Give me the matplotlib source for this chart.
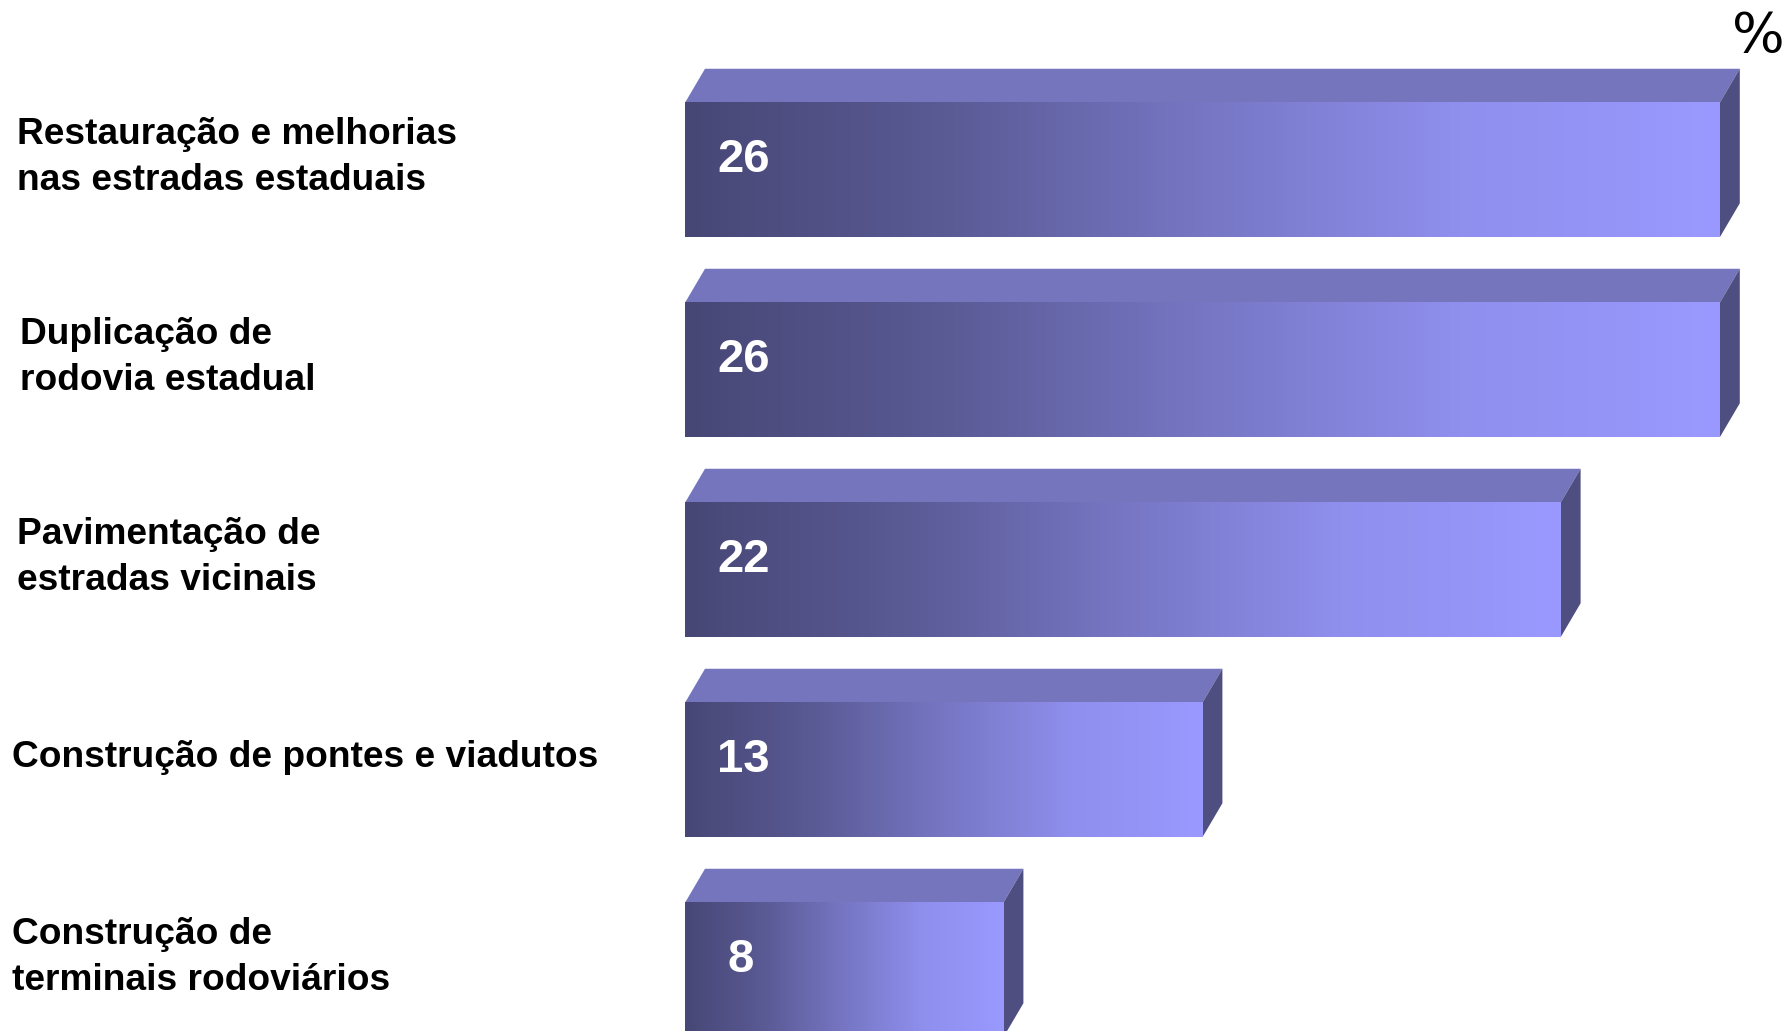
import numpy as np
import matplotlib
matplotlib.use("Agg")
import matplotlib.pyplot as plt
from matplotlib.colors import LinearSegmentedColormap
from matplotlib.patches import Polygon

# ---- data ----
categories = [
    "Restauração e melhorias\nnas estradas estaduais",
    "Duplicação de\nrodovia estadual",
    "Pavimentação de\nestradas vicinais",
    "Construção de pontes e viadutos",
    "Construção de\nterminais rodoviários",
]
values = [26, 26, 22, 13, 8]
value_labels = ["26", "26", "22", "13", "8"]
unit_label = "%"

# ---- layout / style ----
W, H, DPI = 1787, 1031, 100
X0_PX = 685.0          # pixel where value 0 sits
PX_PER_UNIT = 39.8
Y0_PX = 170.0          # pixel center of first bar
ROW_PX = 200.0
BAR_H = 134.5 / ROW_PX
DX = 20.0 / PX_PER_UNIT
DY = 34.0 / ROW_PX

front_cmap = LinearSegmentedColormap.from_list(
    "front",
    [(0.0, "#474776"), (0.25, "#5a5a95"), (0.5, "#7676c4"), (0.75, "#8f8fee"), (1.0, "#9999ff")])
top_color = "#7575bd"
side_color = "#4e4e80"
label_x_px = [17, 20, 17, 12.5, 12.5]

fig = plt.figure(figsize=(W / DPI, H / DPI), dpi=DPI)
ax = fig.add_axes([0, 0, 1, 1])
ax.set_axis_off()

xmin = -X0_PX / PX_PER_UNIT
xmax = (W - X0_PX) / PX_PER_UNIT
ytop = -Y0_PX / ROW_PX
ybot = (H - Y0_PX) / ROW_PX

grad = np.linspace(0, 1, 512).reshape(1, -1)

for i, (cat, v, vl) in enumerate(zip(categories, values, value_labels)):
    top = i - BAR_H / 2
    bot = i + BAR_H / 2
    # top face
    ax.add_patch(Polygon([(0, top), (v, top), (v + DX, top - DY), (DX, top - DY)],
                         closed=True, facecolor=top_color, edgecolor="none", zorder=2))
    # side face
    ax.add_patch(Polygon([(v, top), (v + DX, top - DY), (v + DX, bot - DY), (v, bot)],
                         closed=True, facecolor=side_color, edgecolor="none", zorder=2))
    # front face with gradient
    ax.imshow(grad, cmap=front_cmap, extent=(0, v, bot, top), aspect="auto",
              interpolation="bicubic", zorder=3)
    # value label
    if len(vl) > 1:
        ax.text(32 / PX_PER_UNIT, i - 0.048, vl, ha="left", va="center", color="white",
                fontsize=34, fontweight="bold", family="Liberation Sans", zorder=4)
    else:
        ax.text(56 / PX_PER_UNIT, i - 0.048, vl, ha="center", va="center", color="white",
                fontsize=34, fontweight="bold", family="Liberation Sans", zorder=4)
    # category label
    ax.text((label_x_px[i] - X0_PX) / PX_PER_UNIT, i - 0.063, cat, ha="left", va="center",
            color="black", fontsize=26.7, fontweight="bold", family="Liberation Sans",
            linespacing=1.38, zorder=4)

ax.text((1758 - X0_PX) / PX_PER_UNIT, (37 - Y0_PX) / ROW_PX, unit_label, ha="center", va="center",
        color="black", fontsize=40, family="DejaVu Sans", zorder=4)

ax.set_xlim(xmin, xmax)
ax.set_ylim(ybot, ytop)

fig.savefig("out.png", dpi=DPI, facecolor="white")
